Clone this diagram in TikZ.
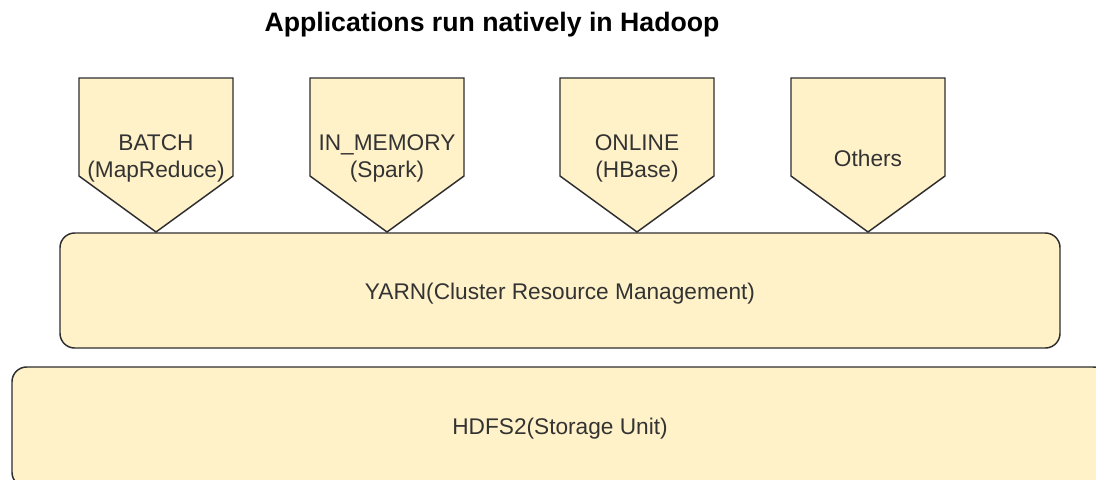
\documentclass[tikz,border=0pt]{standalone}
\usepackage{fontspec}
\setmainfont{Liberation Sans}
\definecolor{fillc}{HTML}{FFF2C9}
\definecolor{linec}{HTML}{2E2E2E}
\definecolor{txtc}{HTML}{333333}
\newcommand\pentbox[3]{%
  \draw[box] (#2-77,78) -- (#2+77,78) -- (#2+77,176) -- (#2,232) -- (#2-77,176) -- cycle;
  \node[lbl] (#1) at (#2,158.5) {#3};}
\begin{document}
\begin{tikzpicture}[x=0.75pt,y=-0.75pt,
  box/.style={draw=linec, fill=fillc, line width=1.1pt, line join=miter},
  lbl/.style={text=txtc, font=\fontsize{17}{20.25}\selectfont, align=center, inner sep=0pt},
  layer/.style={box, rounded corners=11pt, inner sep=0pt},
  ttl/.style={text=black, font=\bfseries\fontsize{20}{24}\selectfont, inner sep=0pt}]
\useasboundingbox (0,0) rectangle (1096,479);
\clip (0,0) rectangle (1096,479);
\fill[white] (0,0) rectangle (1096,479);
\node[ttl] (title) at (492,24.5) {Applications run natively in Hadoop};
\node[layer, minimum width=750pt, minimum height=86.25pt] (yarn) at (560,290.5) {};
\node[lbl] (yarnlbl) at (560,293.5) {YARN(Cluster Resource Management)};
\node[layer, minimum width=822pt, minimum height=90pt] (hdfs) at (560,427) {};
\node[lbl] (hdfslbl) at (560,428.5) {HDFS2(Storage Unit)};
\pentbox{batch}{156}{BATCH\\(MapReduce)}
\pentbox{inmem}{387}{IN\_MEMORY\\(Spark)}
\pentbox{online}{637}{ONLINE\\(HBase)}
\pentbox{others}{868}{Others}
\end{tikzpicture}
\end{document}
